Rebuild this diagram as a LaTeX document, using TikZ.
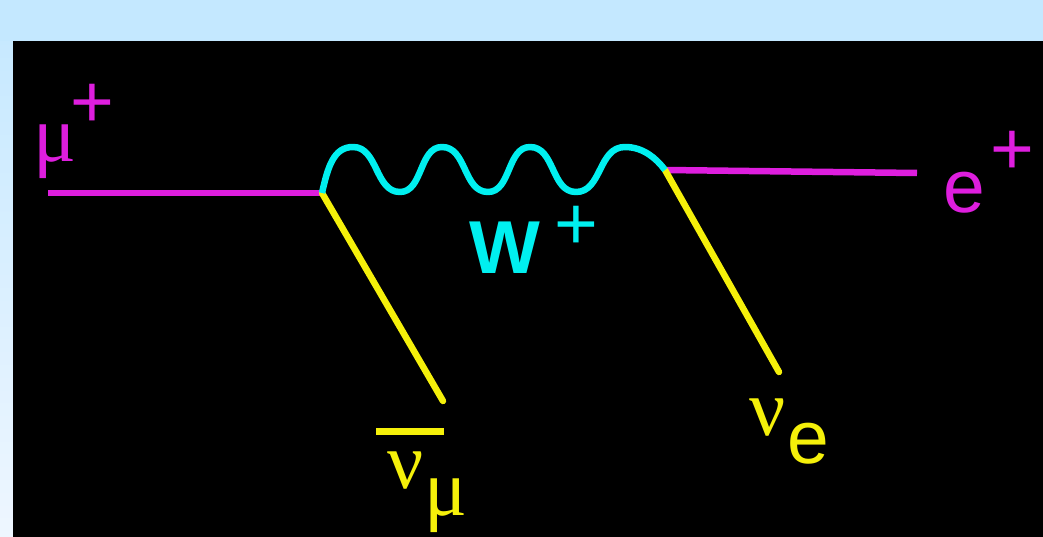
\documentclass[tikz,border=0pt]{standalone}
\usepackage{fontspec}
\setmainfont{Liberation Sans}
\newfontfamily\grk{Liberation Serif}
\definecolor{mag}{RGB}{222,30,222}
\definecolor{cyn}{RGB}{0,240,240}
\definecolor{yel}{RGB}{245,240,10}
\definecolor{bgtop}{RGB}{196,232,255}
\definecolor{bgbot}{RGB}{238,246,255}
\tikzset{
  fermM/.style={draw=mag, line width=6.5pt},
  fermY/.style={draw=yel, line width=6.5pt, line cap=round},
  boson/.style={draw=cyn, line width=6.5pt, line join=round},
  lbl/.style={inner sep=0pt, anchor=center},
  sanslbl/.style={lbl, font=\fontsize{75}{80}\selectfont},
  grklbl/.style={lbl, font=\grk\fontsize{80}{86}\selectfont},
}
\begin{document}
\begin{tikzpicture}[x=1pt,y=-1pt]
\useasboundingbox (0,0) rectangle (1043,537);
\shade[top color=bgtop, bottom color=bgbot] (0,0) rectangle (1043,537);
\fill[bgtop] (0,0) rectangle (1043,41);
\fill[black] (13,41) rectangle (1043,537);

% vertices and free ends
\coordinate (muin) at (48,193);
\coordinate (v1) at (322,193);
\coordinate (v2) at (665,170);
\coordinate (eout) at (917,173);
\coordinate (nubarend) at (443,401);
\coordinate (nueend) at (779,372);

% fermion lines
\draw[fermM] (muin) -- (v1);
\draw[fermM] (v2) -- (eout);
\draw[fermY] (v1) -- (nubarend);
\draw[fermY] (v2) -- (nueend);

% W boson
\draw[boson] (v1) .. controls (328,166) and (334,147) .. (353,147)
  .. controls (378,147) and (375,192) .. (400,192)
  .. controls (423,192) and (419,147) .. (442,147)
  .. controls (467,147) and (463,192) .. (488,192)
  .. controls (511,192) and (507,147) .. (530,147)
  .. controls (555,147) and (551,192) .. (576,192)
  .. controls (602,192) and (598,147) .. (625,147)
  .. controls (643,147) and (656,158) .. (v2);

% labels
\node[sanslbl, text=mag, anchor=base west] (mu) at (33,162)
  {{\grk\fontsize{80}{86}\selectfont μ}\kern-6pt\raisebox{34pt}{+}};
\node[sanslbl, text=cyn, font=\bfseries\fontsize{75}{80}\selectfont] (W) at (505,248) {W};
\node[sanslbl, text=cyn] (Wplus) at (576,228) {+};
\node[sanslbl, text=mag] (e) at (964,193) {e};
\node[sanslbl, text=mag] (eplus) at (1012,153) {+};
\node[grklbl, text=yel] (nub) at (406,471) {ν};
\node[grklbl, text=yel] (nubsub) at (446,506) {μ};
\draw[yel, line width=7pt] (376,431) -- (444,431);
\node[grklbl, text=yel] (nue) at (768,418) {ν};
\node[sanslbl, text=yel] (nuesub) at (808,444) {e};
\end{tikzpicture}
\end{document}
